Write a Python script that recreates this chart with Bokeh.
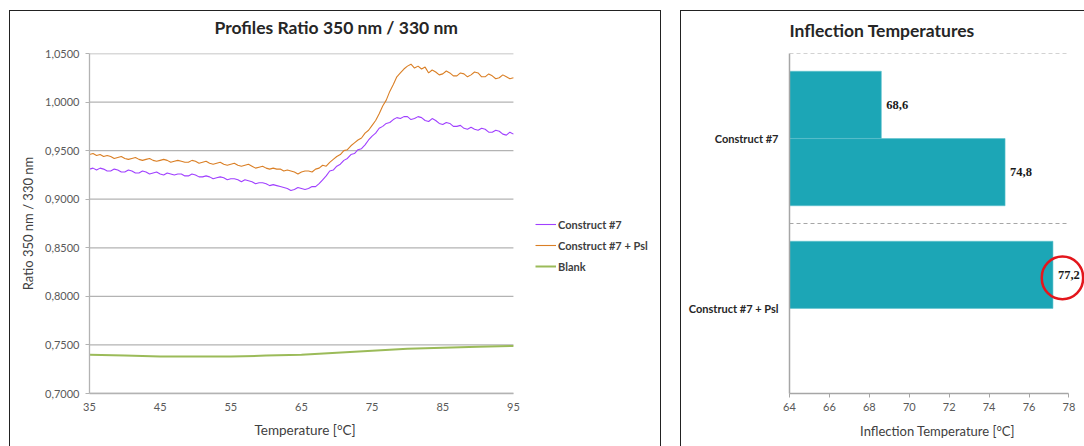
from bokeh.plotting import figure
from bokeh.models import (ColumnDataSource, FixedTicker, CustomJSTickFormatter, Legend, LegendItem,
                          LabelSet, BoxAnnotation, FactorRange, Range1d, Title)
from bokeh.transform import dodge
from bokeh.layouts import row
from bokeh.embed import file_html
from bokeh.resources import INLINE

# ---------------- data ----------------
# temperature grid: 35.0 .. 95.0 °C every 0.5 °C
temps = [t / 2 for t in range(70, 191)]
construct7 = [
    0.931, 0.932, 0.930, 0.932, 0.931, 0.929, 0.929, 0.931, 0.930, 0.928,
    0.928, 0.930, 0.929, 0.927, 0.927, 0.929, 0.928, 0.926, 0.927, 0.928,
    0.926, 0.925, 0.927, 0.926, 0.925, 0.926, 0.926, 0.924, 0.924, 0.926,
    0.925, 0.923, 0.923, 0.924, 0.923, 0.921, 0.922, 0.923, 0.922, 0.920,
    0.921, 0.921, 0.920, 0.918, 0.920, 0.919, 0.918, 0.916, 0.917, 0.917,
    0.916, 0.914, 0.915, 0.914, 0.913, 0.912, 0.911, 0.909, 0.910, 0.912,
    0.911, 0.910, 0.911, 0.913, 0.913, 0.916, 0.920, 0.924, 0.929, 0.930,
    0.934, 0.936, 0.940, 0.942, 0.946, 0.947, 0.951, 0.952, 0.956, 0.961,
    0.965, 0.968, 0.973, 0.975, 0.978, 0.979, 0.982, 0.984, 0.983, 0.985,
    0.985, 0.982, 0.983, 0.985, 0.984, 0.981, 0.980, 0.983, 0.981, 0.978,
    0.977, 0.979, 0.978, 0.975, 0.975, 0.976, 0.973, 0.972, 0.974, 0.972,
    0.971, 0.973, 0.972, 0.969, 0.969, 0.971, 0.970, 0.967, 0.966, 0.969,
    0.967]
construct7_psl = [
    0.946, 0.947, 0.945, 0.946, 0.944, 0.945, 0.944, 0.942, 0.943, 0.944,
    0.942, 0.941, 0.942, 0.943, 0.941, 0.940, 0.941, 0.942, 0.940, 0.939,
    0.940, 0.941, 0.940, 0.938, 0.939, 0.940, 0.939, 0.938, 0.938, 0.940,
    0.939, 0.937, 0.938, 0.939, 0.937, 0.936, 0.937, 0.938, 0.936, 0.935,
    0.936, 0.937, 0.935, 0.934, 0.935, 0.936, 0.934, 0.932, 0.933, 0.934,
    0.932, 0.931, 0.932, 0.931, 0.931, 0.929, 0.930, 0.929, 0.928, 0.926,
    0.928, 0.929, 0.929, 0.928, 0.931, 0.932, 0.935, 0.934, 0.938, 0.941,
    0.944, 0.946, 0.950, 0.951, 0.955, 0.958, 0.961, 0.963, 0.968, 0.971,
    0.976, 0.981, 0.988, 0.996, 1.002, 1.011, 1.018, 1.026, 1.030, 1.034,
    1.037, 1.039, 1.035, 1.037, 1.034, 1.036, 1.030, 1.033, 1.031, 1.028,
    1.029, 1.032, 1.030, 1.027, 1.027, 1.030, 1.029, 1.026, 1.028, 1.031,
    1.030, 1.026, 1.026, 1.029, 1.027, 1.024, 1.025, 1.028, 1.026, 1.024,
    1.025]
blank_temps = [35, 40, 45, 50, 55, 60, 65, 70, 75, 80, 85, 90, 95]
blank = [0.740, 0.739, 0.738, 0.738, 0.738, 0.739, 0.740, 0.742, 0.744, 0.746, 0.747, 0.748, 0.749]

ratio_ticks = [0.70, 0.75, 0.80, 0.85, 0.90, 0.95, 1.00, 1.05]
temp_ticks = [35, 45, 55, 65, 75, 85, 95]

bar_categories = ["Construct #7 + Psl", "Construct #7"]   # bottom -> top
inflection_first = [77.2, 68.6]
inflection_second_cats = ["Construct #7"]
inflection_second = [74.8]
inflection_ticks = [64, 66, 68, 70, 72, 74, 76, 78]

FONT = "Lato"
PURPLE = "#A040FF"
ORANGE = "#DA7F25"
GREEN = "#9BBB59"
TEAL = "#1CA6B6"
GRID = "#B3B3B3"
TXT = "#404040"


def add_title(p, text, offset, gap):
    """Stack an (empty-looking) spacer above the frame, then the real title above it."""
    p.add_layout(Title(text=" ", standoff=gap, text_font_size="1px"), "above")
    p.add_layout(Title(text=text, align="left", offset=offset, standoff=0,
                       vertical_align="middle", text_font=FONT, text_font_size="17.5px",
                       text_font_style="bold", text_color="#262626"), "above")


# ---------------- left chart ----------------
# frame extends to the panel's right edge so the legend can sit inside it;
# the axis and grid are bounded to the 35..95 data span
p1 = figure(width=652, height=436, x_range=Range1d(35, 116.1), y_range=Range1d(0.70, 1.05),
            output_backend="svg", toolbar_location=None,
            min_border_left=79, min_border_right=0, min_border_top=42, min_border_bottom=54,
            margin=(10, 0, 0, 9),
            styles={"border": "1.5px solid #222222", "border-bottom": "none"})
p1.outline_line_color = None
p1.xgrid.visible = False
p1.ygrid.visible = False

grid_src1 = ColumnDataSource(dict(y=ratio_ticks))
p1.segment(x0=temp_ticks[0], x1=temp_ticks[-1], y0="y", y1="y", source=grid_src1,
           line_color=GRID, line_width=1.3)

r1 = p1.line(temps, construct7, line_color=PURPLE, line_width=1.1)
r2 = p1.line(temps, construct7_psl, line_color=ORANGE, line_width=1.1)
r3 = p1.line(blank_temps, blank, line_color=GREEN, line_width=2)

add_title(p1, "Profiles Ratio 350 nm / 330 nm", 125, 12)

p1.add_layout(Title(text="Temperature [°C]", align="left", offset=165, standoff=12,
                    text_font=FONT, text_font_size="13.5px", text_font_style="normal",
                    text_color=TXT), "below")

p1.yaxis.ticker = FixedTicker(ticks=ratio_ticks)
p1.yaxis.formatter = CustomJSTickFormatter(code="return tick.toFixed(4).replace('.', ',');")
p1.xaxis.ticker = FixedTicker(ticks=temp_ticks)
p1.xaxis.bounds = (temp_ticks[0], temp_ticks[-1])

for ax in (p1.xaxis, p1.yaxis):
    ax.axis_line_color = GRID
    ax.axis_line_width = 1.3
    ax.major_tick_line_color = GRID
    ax.minor_tick_line_color = None
    ax.major_tick_in = 0
    ax.major_label_text_font = FONT
    ax.major_label_text_font_size = "11px"
    ax.major_label_text_color = "#595959"
    ax.axis_label_text_font = FONT
    ax.axis_label_text_font_size = "13px"
    ax.axis_label_text_font_style = "normal"
    ax.axis_label_text_color = TXT
p1.xaxis.major_tick_out = 0
p1.xaxis.major_label_standoff = 9
p1.yaxis.major_tick_out = 4
p1.yaxis.major_label_standoff = 6
p1.yaxis.axis_label = "Ratio 350 nm / 330 nm"
p1.yaxis.axis_label_standoff = 6

legend = Legend(items=[LegendItem(label="Construct #7", renderers=[r1]),
                       LegendItem(label="Construct #7 + Psl", renderers=[r2]),
                       LegendItem(label="Blank", renderers=[r3])],
                location=(446, 120), orientation="vertical",
                border_line_color=None, background_fill_alpha=0,
                padding=0, margin=0, spacing=7, glyph_width=21, glyph_height=14,
                label_height=14, label_standoff=2,
                label_text_font=FONT, label_text_font_size="11px",
                label_text_font_style="bold", label_text_color=TXT)
p1.add_layout(legend, "center")

# ---------------- right chart ----------------
p2 = figure(width=404, height=436, x_range=Range1d(64, 78.83),
            y_range=FactorRange(factors=bar_categories),
            output_backend="svg", toolbar_location=None,
            min_border_left=108, min_border_right=0, min_border_top=40, min_border_bottom=50,
            margin=(10, 0, 0, 19),
            styles={"border": "1.5px solid #222222", "border-bottom": "none", "border-right": "none"})
p2.outline_line_color = None
p2.xgrid.visible = False
p2.ygrid.visible = False

add_title(p2, "Inflection Temperatures", 0, 9)

src1 = ColumnDataSource(dict(cat=bar_categories, val=inflection_first,
                             txt=[f"{v:.1f}".replace(".", ",") for v in inflection_first]))
src2 = ColumnDataSource(dict(cat=inflection_second_cats, val=inflection_second,
                             txt=[f"{v:.1f}".replace(".", ",") for v in inflection_second]))
grid_src2 = ColumnDataSource(dict(cat=bar_categories))

# dashed separators at the top edge of each category band
p2.segment(x0=inflection_ticks[0], x1=inflection_ticks[-1],
           y0=dodge("cat", 0.5, range=p2.y_range), y1=dodge("cat", 0.5, range=p2.y_range),
           source=grid_src2, line_color="#A6A6A6", line_width=1.2, line_dash="4 3")

p2.hbar(y=dodge("cat", 0.198, range=p2.y_range), left=inflection_ticks[0], right="val",
        height=0.395, source=src1, fill_color=TEAL, line_color="#5FC3CE", line_width=0.6)
p2.hbar(y=dodge("cat", -0.198, range=p2.y_range), left=inflection_ticks[0], right="val",
        height=0.395, source=src2, fill_color=TEAL, line_color="#5FC3CE", line_width=0.6)

for src, off in ((src1, 0.198), (src2, -0.198)):
    p2.add_layout(LabelSet(x="val", y=dodge("cat", off, range=p2.y_range), text="txt",
                           source=src, x_offset=5, text_baseline="middle",
                           text_font=FONT, text_font_size="12.5px",
                           text_font_style="bold", text_color="#1a1a1a"))

p2.xaxis.ticker = FixedTicker(ticks=inflection_ticks)
p2.xaxis.bounds = (inflection_ticks[0], inflection_ticks[-1])
p2.xaxis.axis_label = "Inflection Temperature [°C]"
for ax in (p2.xaxis, p2.yaxis):
    ax.axis_line_color = "#A6A6A6"
    ax.axis_line_width = 1.5
    ax.major_tick_line_color = "#A6A6A6"
    ax.minor_tick_line_color = None
    ax.major_tick_in = 0
    ax.axis_label_text_font = FONT
    ax.axis_label_text_font_size = "13px"
    ax.axis_label_text_font_style = "normal"
    ax.axis_label_text_color = TXT
p2.xaxis.major_tick_out = 4
p2.xaxis.major_label_standoff = 5
p2.xaxis.major_label_text_font = FONT
p2.xaxis.major_label_text_font_size = "11px"
p2.xaxis.major_label_text_color = "#595959"
p2.xaxis.axis_label_standoff = 9
p2.yaxis.major_tick_out = 0
p2.yaxis.major_label_standoff = 11
p2.yaxis.major_label_text_font = FONT
p2.yaxis.major_label_text_font_size = "11px"
p2.yaxis.major_label_text_font_style = "bold"
p2.yaxis.major_label_text_color = "#262626"

# red highlight around the Construct #7 + Psl value
psl_value = inflection_first[0]
p2.add_layout(BoxAnnotation(left=psl_value - 0.56, right=psl_value + 1.51,
                            bottom=0.5 + 0.198 - 0.143, top=0.5 + 0.198 + 0.108,
                            fill_alpha=0, line_color="#E3161C", line_alpha=1.0,
                            line_width=2.5, border_radius=21))

layout = row(p1, p2, spacing=0)
open("out.html", "w").write(file_html(layout, INLINE))
